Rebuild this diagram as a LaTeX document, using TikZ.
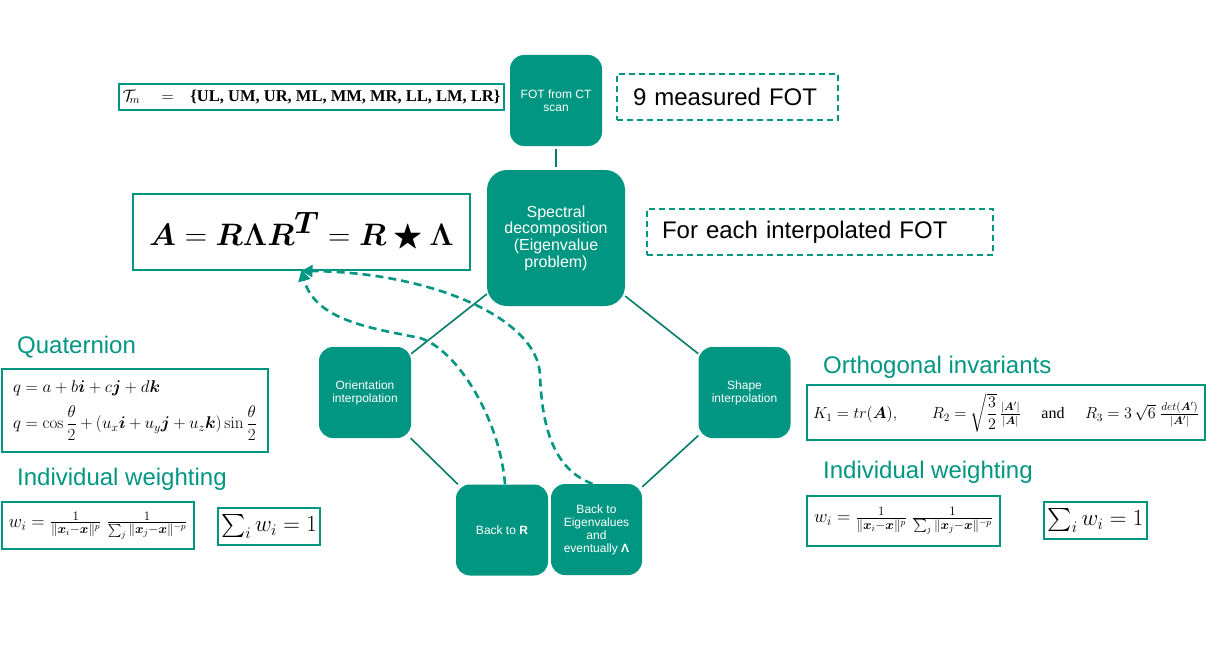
\RequirePackage{fix-cm}
\documentclass[tikz,border=0pt]{standalone}
\usepackage{amsmath}
\usepackage{amssymb}
\usepackage{bm}
\usepackage[no-math]{fontspec}
\setmainfont{Liberation Sans}
\newfontfamily\tms{Liberation Serif}
\usetikzlibrary{arrows.meta}
\definecolor{tealA}{RGB}{0,150,130}
\definecolor{tealB}{RGB}{0,125,105}
\tikzset{
  procbox/.style={fill=tealA, rounded corners=14pt, text=white, align=center,
    font=\fontsize{12}{13}\selectfont, minimum width=92pt, minimum height=91pt, inner sep=2pt},
  conn/.style={draw=tealB, line width=1.6pt},
  fbox/.style={draw=tealA, line width=2pt, fill=white, inner sep=0pt},
  lbl/.style={text=tealA, font=\fontsize{24}{28}\selectfont, anchor=base west, inner sep=0pt},
  dbox/.style={draw=tealA, line width=1.5pt, dash pattern=on 6pt off 4pt,
    font=\fontsize{24}{28}\selectfont, align=left, minimum height=46pt, inner ysep=0pt},
  dconn/.style={draw=tealA, line width=2.6pt, dash pattern=on 8pt off 5pt,
    -{Triangle[length=11pt,width=12pt]}},
}
\begin{document}
\begin{tikzpicture}[x=1pt,y=-1pt]
\useasboundingbox (0,0) rectangle (1206,666);
\fill[white] (0,0) rectangle (1206,666);

% process boxes
\node[procbox] (fot) at (556,100.5) {FOT from CT\\scan};
\node[procbox, minimum width=138pt, minimum height=136pt, rounded corners=20pt,
      font=\fontsize{16}{16.7}\selectfont] (spec) at (556,238)
      {Spectral\\decomposition\\(Eigenvalue\\problem)};
\node[procbox] (orient) at (365,392.5) {Orientation\\interpolation};
\node[procbox] (shape) at (744.5,392.5) {Shape\\interpolation};
\node[procbox] (backR) at (502,530) {Back to \textbf{R}};
\node[procbox, minimum width=91pt] (backE) at (596.5,529.5) {Back to\\Eigenvalues\\and\\eventually \textbf{Λ}};

% connectors
\draw[conn, shorten <=3pt, shorten >=3pt] (fot) -- (spec);
\draw[conn] (spec.219) -- (orient.40);
\draw[conn] (spec.-40) -- (shape.140);
\draw[conn] (orient.-45) -- (backR.134);
\draw[conn] (shape.223) -- (backE.43);

% formula boxes
\node[fbox, minimum width=385pt, minimum height=26pt,
      font=\fontsize{16.5}{18}\selectfont] (tm) at (311.5,97)
      {$\mathcal{T}_{\!m}\quad=\quad$\tms\bfseries\{UL, UM, UR, ML, MM, MR, LL, LM, LR\}};
\node[fbox, minimum width=337pt, minimum height=76pt,
      font=\fontsize{31}{34}\selectfont] (eqA) at (301.5,232)
      {$\bm{A} = \bm{R}\bm{\Lambda}\bm{R}^{\textstyle\bm{T}} = \bm{R} \mathbin{\bigstar} \bm{\Lambda}$};

\node[lbl] (lq) at (17,353) {Quaternion};
\node[fbox, minimum width=266pt, minimum height=83pt, text width=244pt, align=left,
      inner xsep=11pt, font=\fontsize{17}{20}\selectfont] (quat) at (135,410.5)
      {$q = a + b\bm{i} + c\bm{j} + d\bm{k}$\\[9pt]
       $\displaystyle q = \cos\frac{\theta}{2} + (u_x\bm{i} + u_y\bm{j} + u_z\bm{k})\sin\frac{\theta}{2}$};

\node[lbl] (lw1) at (17,485) {Individual weighting};
\node[fbox, minimum width=192pt, minimum height=47pt, font=\fontsize{18.5}{20}\selectfont] (w1) at (98,525.5)
      {$w_i = \frac{1}{\|\bm{x}_i - \bm{x}\|^p}\ \frac{1}{\sum_j \|\bm{x}_j - \bm{x}\|^{-p}}$};
\node[fbox, minimum width=102pt, minimum height=37pt, font=\fontsize{23}{25}\selectfont] (s1) at (269,526.5)
      {$\sum_i w_i = 1$};

\node[lbl] (lo) at (823,373) {Orthogonal invariants};
\node[fbox, minimum width=398pt, minimum height=55pt, font=\fontsize{16}{18}\selectfont] (k1) at (1006,412.5)
      {$K_1 = tr(\bm{A}),\qquad R_2 = \sqrt{\dfrac{3}{2}}\,\frac{|\bm{A}'|}{|\bm{A}|}\quad\ \text{\tms and}\quad\ R_3 = 3\,\sqrt{6}\ \frac{det(\bm{A}')}{|\bm{A}'|}$};

\node[lbl] (lw2) at (823,478) {Individual weighting};
\node[fbox, minimum width=193pt, minimum height=50pt, font=\fontsize{18.5}{20}\selectfont] (w2) at (903.5,521)
      {$w_i = \frac{1}{\|\bm{x}_i - \bm{x}\|^p}\ \frac{1}{\sum_j \|\bm{x}_j - \bm{x}\|^{-p}}$};
\node[fbox, minimum width=103pt, minimum height=37pt, font=\fontsize{23}{25}\selectfont] (s2) at (1095.5,520.5)
      {$\sum_i w_i = 1$};

% dashed notes
\node[dbox, inner xsep=16pt, text width=189pt] (n9) at (727.5,97) {9 measured FOT};
\node[dbox, inner xsep=15pt, text width=316pt] (nfe) at (820,232) {For each interpolated FOT};

% dashed arrows
\draw[dconn] ([xshift=3pt]backR.north) .. controls (500,420) and (458,350) .. (420,338)
   .. controls (370,328) and (315,320) .. ([yshift=1pt]eqA.south);
\draw[dconn] ([xshift=-4pt]backE.north) .. controls (555,470) and (542,430) .. (540,375)
   .. controls (538,318) and (430,272) .. (eqA.south);
\end{tikzpicture}
\end{document}
